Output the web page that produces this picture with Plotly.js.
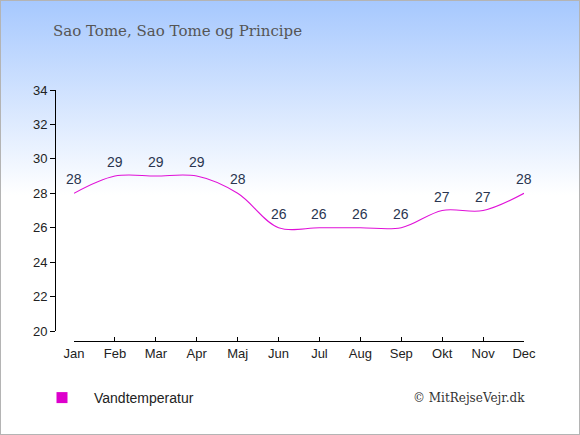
<!DOCTYPE html>
<html>
<head>
<meta charset="utf-8">
<script src="https://cdn.plot.ly/plotly-3.0.1.min.js"></script>
<style>
  html, body { margin: 0; padding: 0; background: #fff; }
  #wrap {
    position: absolute; left: 0; top: 0; width: 580px; height: 435px;
    background: linear-gradient(to bottom, #a6c8fe 0px, #ffffff 195px, #ffffff 435px);
    box-shadow: inset 0 0 0 1px #b4b4b4;
  }
  #chart { position: absolute; left: 0; top: 0; width: 580px; height: 435px; }
</style>
</head>
<body>
<div id="wrap"><div id="chart"></div></div>
<script>
const months = ["Jan","Feb","Mar","Apr","Maj","Jun","Jul","Aug","Sep","Okt","Nov","Dec"];
const waterTemp = [28, 29, 29, 29, 28, 26, 26, 26, 26, 27, 27, 28];
const yTicks = [20, 22, 24, 26, 28, 30, 32, 34];
const seriesName = "Vandtemperatur";
const titleText = "Sao Tome, Sao Tome og Principe";
const creditText = "© MitRejseVejr.dk";

const W = 580, H = 435;
const px = x => x / W;
const py = y => (H - y) / H;

const lineColor = "#e010d8";

const traces = [
  {
    x: months,
    y: waterTemp,
    type: "scatter",
    mode: "lines",
    line: { color: lineColor, width: 1.1, shape: "spline", smoothing: 1 },
    showlegend: false,
    hoverinfo: "skip"
  },
  {
    x: [null],
    y: [null],
    type: "scatter",
    mode: "markers",
    name: seriesName,
    marker: { symbol: "square", size: 11, color: "#dd00cc" },
    showlegend: true
  }
];

const valueLabels = months.map((m, i) => ({
  x: m,
  y: waterTemp[i],
  xref: "x", yref: "y",
  text: String(waterTemp[i]),
  showarrow: false,
  xanchor: "center", yanchor: "middle",
  yshift: 14,
  font: { family: "Liberation Sans, Arial, sans-serif", size: 14, color: "#2a3550" }
}));

const layout = {
  width: W,
  height: H,
  margin: { l: 0, r: 0, t: 0, b: 0 },
  paper_bgcolor: "rgba(0,0,0,0)",
  plot_bgcolor: "rgba(0,0,0,0)",
  font: { family: "Liberation Sans, Arial, sans-serif", size: 13, color: "#222" },
  xaxis: {
    type: "category",
    domain: [px(74), px(524)],
    range: [0, 11],
    anchor: "free",
    position: py(341),
    showline: true,
    linecolor: "#000",
    linewidth: 1,
    ticks: "inside",
    ticklen: 4,
    tickcolor: "#000",
    showgrid: false,
    zeroline: false,
    tickfont: { size: 13, color: "#222" },
    fixedrange: true
  },
  yaxis: {
    domain: [py(331), py(90)],
    range: [20, 34],
    anchor: "free",
    position: px(55),
    tickvals: yTicks,
    ticktext: yTicks.map(String),
    showline: true,
    linecolor: "#000",
    linewidth: 1,
    ticks: "outside",
    ticklen: 5,
    tickcolor: "#000",
    showgrid: false,
    zeroline: false,
    tickfont: { size: 13, color: "#222" },
    fixedrange: true
  },
  showlegend: true,
  legend: {
    x: px(30),
    y: py(398),
    xanchor: "left",
    yanchor: "middle",
    itemwidth: 54,
    bgcolor: "rgba(0,0,0,0)",
    font: { size: 14, color: "#222" }
  },
  annotations: valueLabels.concat([
    {
      text: titleText,
      xref: "paper", yref: "paper",
      x: px(51), y: py(31),
      xanchor: "left", yanchor: "middle",
      showarrow: false,
      font: { family: "DejaVu Serif, Georgia, serif", size: 15, color: "#555" }
    },
    {
      text: creditText,
      xref: "paper", yref: "paper",
      x: px(527), y: py(398),
      xanchor: "right", yanchor: "middle",
      showarrow: false,
      font: { family: "DejaVu Serif, Georgia, serif", size: 12, color: "#333" }
    }
  ])
};

Plotly.newPlot("chart", traces, layout, { displayModeBar: false, staticPlot: true });
</script>
</body>
</html>
